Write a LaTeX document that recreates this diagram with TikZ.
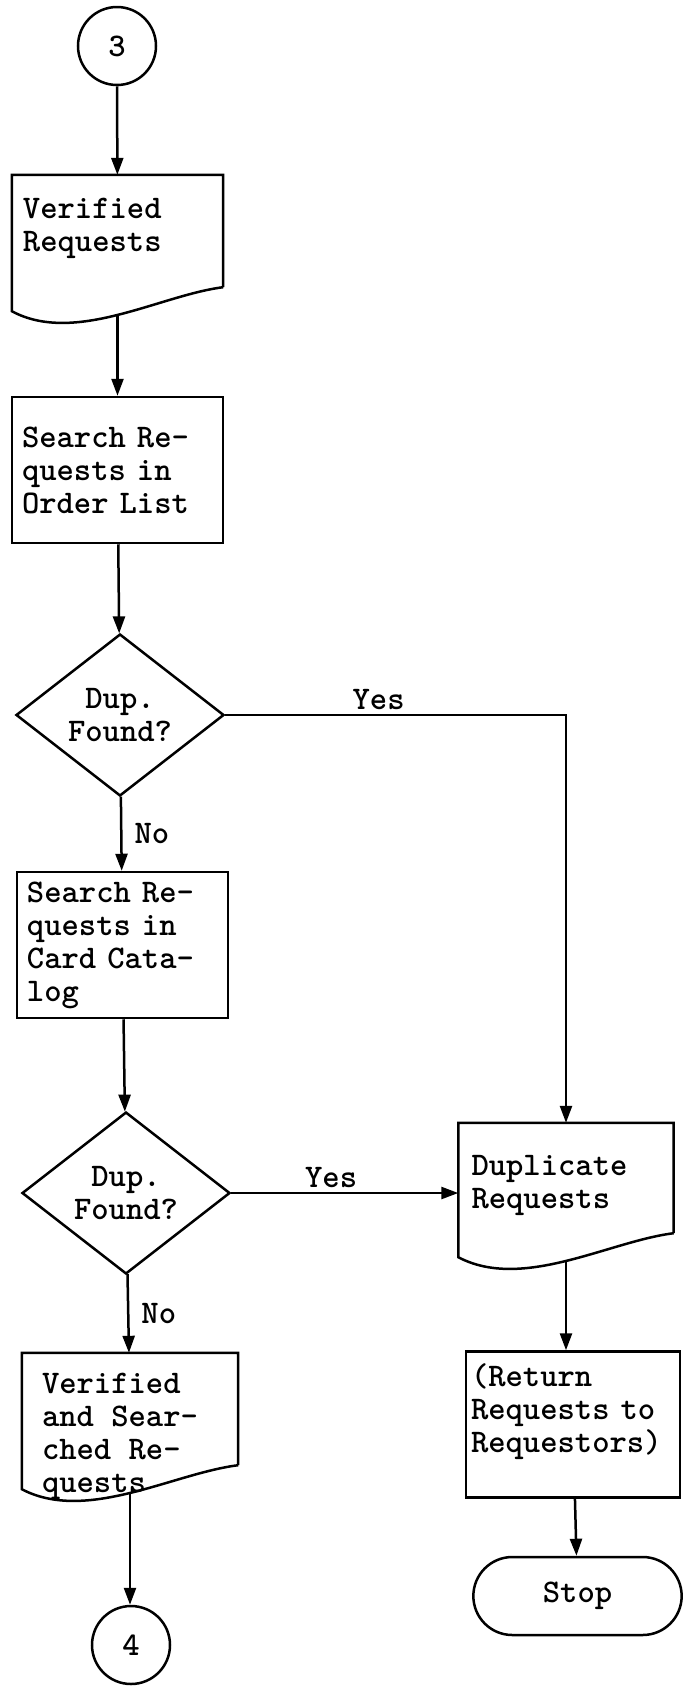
\documentclass[tikz,border=0pt]{standalone}
\usetikzlibrary{arrows.meta,shapes.geometric,shapes.misc}

\newcommand{\flowfont}{\fontsize{33}{33}\selectfont\ttfamily\bfseries}

% document symbol: invisible body node, outline with the wavy lower edge,
% text set from the top left corner; (name-w) is the middle of the wave
\newcommand{\docsym}[6]{%
  \node[docbody, minimum width=#3, minimum height=#4] (#1) at (#2) {};
  \draw[outline] (#1.south east) -- (#1.north east) -- (#1.north west)
    -- ([yshift=-24pt]#1.south west)
    .. controls ([xshift=0.3*#3, yshift=-58pt]#1.south west)
    and ([xshift=-0.3*#3, yshift=-8pt]#1.south east) .. (#1.south east)
    coordinate[pos=0.5] (#1-w);
  \node[doctext, anchor=north west] (#1-t) at ([shift={#5}]#1.north west) {#6};
}

\tikzset{
  outline/.style={line width=2.5pt},
  flow/.style={line width=2.5pt, -{Triangle[length=17pt, width=12pt]}},
  box/.style={draw, outline, rectangle, minimum height=146pt, text width=191pt,
    inner xsep=10pt, align=left},
  decision/.style={draw, outline, diamond, aspect=1.3, inner sep=0pt,
    minimum width=208pt, minimum height=162pt, align=center},
  connector/.style={draw, outline, circle, inner sep=0pt, minimum size=78pt},
  terminal/.style={draw, outline, rounded rectangle, minimum width=215pt,
    minimum height=78pt},
  docbody/.style={rectangle, inner sep=0pt},
  doctext/.style={inner sep=0pt, align=left},
  answer/.style={inner sep=4pt}
}

\begin{document}
\begin{tikzpicture}[x=1pt, y=-1pt, font=\flowfont]
  \useasboundingbox (0,0) rectangle (686,1687);

  % left column
  \node[connector] (c3) at (117,46) {3};
  \docsym{vreq}{117.5,231}{211pt}{112pt}{(11pt,-23pt)}{Verified\\Requests}
  \node[box] (sord) at (117.5,470) {Search Re-\\quests in\\Order List};
  \node[decision] (dup1) at (120,715) {Dup.\\Found?};
  \node[box] (scat) at (122.5,945) {Search Re-\\quests in\\Card Cata-\\log};
  \node[decision] (dup2) at (126,1193) {Dup.\\Found?};
  \docsym{vsreq}{130,1409}{216pt}{112pt}{(20pt,-20pt)}{Verified\\and Sear-\\ched Re-\\quests}
  \node[connector] (c4) at (131,1645) {4};

  % right column
  \docsym{dreq}{566,1178}{215pt}{110pt}{(13pt,-32pt)}{Duplicate\\Requests}
  \node[box, text width=204pt, inner xsep=5pt] (ret) at (573,1424.5)
    {(Return\\Requests to\\Requestors)\\\mbox{}};
  \node[terminal] (stop) at (577.5,1596) {Stop};

  % connectors
  \draw[flow] (c3) -- (vreq);
  \draw[flow] (vreq-w) -- (vreq-w |- sord.north);
  \draw[flow] (sord) -- (dup1);
  \draw[flow] (dup1) -- node[answer, right=8pt] {No} (scat);
  \draw[flow] (scat) -- (dup2);
  \draw[flow] (dup2) -- node[answer, right=8pt] {No} (vsreq);
  \draw[flow] (vsreq-w) -- (vsreq-w |- c4.north);
  \draw[flow] (dup1.east) -- node[answer, above, pos=0.45] {Yes} (dup1.east -| dreq.north)
    -- (dreq.north);
  \draw[flow] (dup2.east) -- node[answer, above, pos=0.44] {Yes} (dup2.east -| dreq.west);
  \draw[flow] (dreq-w) -- (dreq-w |- ret.north);
  \draw[flow] (ret) -- (stop);
\end{tikzpicture}
\end{document}
